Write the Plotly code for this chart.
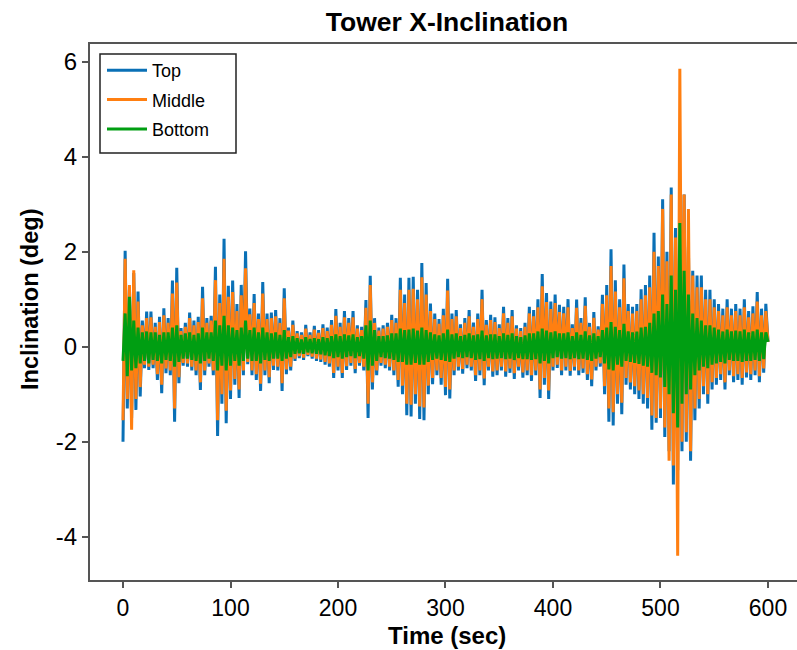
import plotly.graph_objects as go

# ---------------- data ----------------
time_s = [
    0, 2, 4, 6, 8, 10, 12, 14, 16, 18,
    20, 22, 24, 26, 28, 30, 32, 34, 36, 38,
    40, 42, 44, 46, 48, 50, 52, 54, 56, 58,
    60, 62, 64, 66, 68, 70, 72, 74, 76, 78,
    80, 82, 84, 86, 88, 90, 92, 94, 96, 98,
    100, 102, 104, 106, 108, 110, 112, 114, 116, 118,
    120, 122, 124, 126, 128, 130, 132, 134, 136, 138,
    140, 142, 144, 146, 148, 150, 152, 154, 156, 158,
    160, 162, 164, 166, 168, 170, 172, 174, 176, 178,
    180, 182, 184, 186, 188, 190, 192, 194, 196, 198,
    200, 202, 204, 206, 208, 210, 212, 214, 216, 218,
    220, 222, 224, 226, 228, 230, 232, 234, 236, 238,
    240, 242, 244, 246, 248, 250, 252, 254, 256, 258,
    260, 262, 264, 266, 268, 270, 272, 274, 276, 278,
    280, 282, 284, 286, 288, 290, 292, 294, 296, 298,
    300, 302, 304, 306, 308, 310, 312, 314, 316, 318,
    320, 322, 324, 326, 328, 330, 332, 334, 336, 338,
    340, 342, 344, 346, 348, 350, 352, 354, 356, 358,
    360, 362, 364, 366, 368, 370, 372, 374, 376, 378,
    380, 382, 384, 386, 388, 390, 392, 394, 396, 398,
    400, 402, 404, 406, 408, 410, 412, 414, 416, 418,
    420, 422, 424, 426, 428, 430, 432, 434, 436, 438,
    440, 442, 444, 446, 448, 450, 452, 454, 456, 458,
    460, 462, 464, 466, 468, 470, 472, 474, 476, 478,
    480, 482, 484, 486, 488, 490, 492, 494, 496, 498,
    500, 502, 504, 506, 508, 510, 512, 514, 516, 518,
    520, 522, 524, 526, 528, 530, 532, 534, 536, 538,
    540, 542, 544, 546, 548, 550, 552, 554, 556, 558,
    560, 562, 564, 566, 568, 570, 572, 574, 576, 578,
    580, 582, 584, 586, 588, 590, 592, 594, 596, 598,
    600,
]

top_deg = [
    -2.00, 2.02, -1.30, 1.20, -1.50, 1.55, -1.33, 1.16, -1.05, 0.55,
    -0.45, 0.74, -0.49, 0.74, -0.45, 0.50, -0.70, 0.63, -0.98, 0.81,
    -0.56, 0.60, -0.60, 1.39, -1.58, 1.66, -0.77, 0.39, -0.40, 0.50,
    -0.42, 0.72, -0.50, 0.55, -0.60, 0.63, -0.91, 1.26, -0.60, 0.60,
    -0.42, 0.65, -0.60, 1.68, -1.88, 1.10, -1.20, 2.27, -1.61, 1.28,
    -1.10, 1.39, -0.80, 0.90, -1.08, 1.30, -0.60, 2.01, -0.37, 0.80,
    -0.60, 1.11, -0.70, 0.70, -0.93, 1.36, -0.60, 0.70, -0.77, 0.72,
    -0.49, 0.77, -0.50, 0.60, -0.93, 1.23, -0.58, 0.40, -0.50, 0.55,
    -0.30, 0.33, -0.24, 0.30, -0.28, 0.46, -0.20, 0.30, -0.25, 0.44,
    -0.30, 0.35, -0.32, 0.47, -0.38, 0.40, -0.42, 0.56, -0.66, 0.79,
    -0.50, 0.50, -0.66, 0.75, -0.49, 0.60, -0.40, 0.75, -0.56, 0.45,
    -0.40, 0.42, -0.50, 0.98, -1.50, 1.49, -0.90, 0.60, -0.60, 0.40,
    -0.40, 0.45, -0.45, 0.50, -0.50, 0.67, -0.60, 0.60, -0.84, 1.45,
    -1.00, 1.10, -1.44, 1.45, -1.47, 1.47, -1.20, 1.20, -1.52, 1.76,
    -1.55, 1.34, -1.00, 0.91, -0.79, 0.70, -0.60, 0.58, -0.80, 0.80,
    -1.02, 1.43, -1.09, 0.70, -0.60, 0.77, -0.50, 0.47, -0.57, 0.60,
    -0.45, 0.77, -0.50, 0.51, -0.72, 0.70, -0.60, 1.20, -0.81, 0.56,
    -0.50, 0.67, -0.63, 0.62, -0.60, 0.47, -0.50, 0.84, -0.63, 0.60,
    -0.55, 0.77, -0.68, 0.45, -0.50, 0.39, -0.65, 0.50, -0.60, 0.84,
    -0.72, 0.77, -0.60, 1.00, -1.08, 1.53, -0.80, 1.13, -1.10, 0.95,
    -0.50, 1.10, -0.45, 0.88, -0.60, 0.84, -0.50, 1.00, -0.61, 0.47,
    -0.50, 0.99, -0.60, 0.60, -0.55, 1.04, -0.70, 0.50, -0.83, 0.73,
    -0.50, 0.43, -0.42, 1.09, -1.00, 1.30, -1.58, 2.05, -1.66, 1.40,
    -1.20, 1.00, -1.42, 1.73, -0.80, 0.90, -0.90, 0.84, -1.00, 0.90,
    -1.10, 1.21, -1.20, 1.30, -1.30, 1.50, -1.75, 2.40, -1.60, 1.90,
    -1.50, 3.10, -1.90, 2.00, -2.20, 3.35, -2.90, 2.50, -2.60, 3.00,
    -2.20, 3.20, -2.00, 2.10, -2.40, 1.60, -1.55, 1.50, -1.30, 1.50,
    -1.00, 1.20, -1.20, 1.20, -0.90, 1.00, -0.80, 0.90, -0.70, 0.80,
    -0.90, 1.00, -0.60, 0.80, -0.75, 0.90, -0.70, 0.80, -0.80, 1.00,
    -0.65, 0.75, -0.70, 0.85, -0.60, 1.15, -0.75, 0.80, -0.55, 0.90,
    0.10,
]

middle_deg = [
    -1.55, 1.85, -1.10, 1.30, -1.75, 1.61, -1.10, 0.95, -0.85, 0.45,
    -0.38, 0.60, -0.42, 0.62, -0.38, 0.42, -0.58, 0.52, -0.80, 0.66,
    -0.46, 0.50, -0.50, 1.12, -1.30, 1.35, -0.64, 0.33, -0.34, 0.42,
    -0.35, 0.60, -0.42, 0.45, -0.50, 0.52, -0.75, 1.02, -0.50, 0.50,
    -0.35, 0.55, -0.50, 1.40, -1.55, 0.92, -1.00, 1.85, -1.35, 1.05,
    -0.92, 1.15, -0.68, 0.75, -0.90, 1.08, -0.50, 1.65, -0.32, 0.68,
    -0.50, 0.92, -0.58, 0.58, -0.78, 1.12, -0.50, 0.58, -0.64, 0.60,
    -0.40, 0.64, -0.42, 0.50, -0.77, 1.02, -0.48, 0.34, -0.42, 0.46,
    -0.25, 0.28, -0.20, 0.25, -0.23, 0.38, -0.17, 0.25, -0.21, 0.36,
    -0.25, 0.29, -0.27, 0.39, -0.32, 0.33, -0.35, 0.46, -0.55, 0.65,
    -0.42, 0.42, -0.55, 0.62, -0.41, 0.50, -0.34, 0.62, -0.47, 0.38,
    -0.34, 0.35, -0.42, 0.82, -1.20, 1.30, -0.75, 0.50, -0.50, 0.34,
    -0.34, 0.38, -0.38, 0.42, -0.42, 0.56, -0.50, 0.50, -0.70, 1.20,
    -0.82, 0.92, -1.20, 1.20, -1.22, 1.22, -1.00, 1.00, -1.26, 1.46,
    -1.28, 1.10, -0.82, 0.75, -0.66, 0.58, -0.50, 0.48, -0.66, 0.66,
    -0.85, 1.18, -0.90, 0.58, -0.50, 0.64, -0.42, 0.39, -0.47, 0.50,
    -0.38, 0.64, -0.42, 0.42, -0.60, 0.58, -0.50, 1.00, -0.67, 0.46,
    -0.42, 0.56, -0.52, 0.52, -0.50, 0.39, -0.42, 0.70, -0.52, 0.50,
    -0.46, 0.64, -0.56, 0.38, -0.42, 0.33, -0.54, 0.42, -0.50, 0.70,
    -0.60, 0.64, -0.50, 0.83, -0.90, 1.27, -0.66, 0.94, -0.92, 0.79,
    -0.42, 0.92, -0.38, 0.73, -0.50, 0.70, -0.42, 0.83, -0.51, 0.39,
    -0.42, 0.82, -0.50, 0.50, -0.46, 0.86, -0.58, 0.42, -0.69, 0.61,
    -0.42, 0.36, -0.35, 0.90, -0.83, 1.08, -1.30, 1.70, -1.38, 1.16,
    -1.00, 0.83, -1.18, 1.44, -0.66, 0.75, -0.75, 0.70, -0.83, 0.75,
    -0.92, 1.00, -1.00, 1.08, -1.08, 1.25, -1.45, 2.00, -1.50, 1.70,
    -1.30, 2.90, -1.70, 1.80, -2.40, 3.20, -2.50, 2.30, -4.40, 5.85,
    -2.00, 3.20, -1.80, 2.90, -2.20, 1.50, -1.30, 1.25, -1.10, 1.25,
    -0.83, 1.00, -1.00, 1.00, -0.75, 0.83, -0.66, 0.75, -0.58, 0.66,
    -0.75, 0.83, -0.50, 0.66, -0.62, 0.75, -0.58, 0.66, -0.66, 0.83,
    -0.54, 0.62, -0.58, 0.70, -0.50, 0.95, -0.62, 0.66, -0.46, 0.75,
    0.10,
]

bottom_deg = [
    -0.30, 0.70, -0.62, 1.05, -0.50, 0.55, -0.45, 0.40, -0.35, 0.30,
    -0.30, 0.32, -0.35, 0.30, -0.28, 0.30, -0.30, 0.25, -0.35, 0.30,
    -0.28, 0.30, -0.30, 0.40, -0.42, 0.45, -0.32, 0.25, -0.25, 0.28,
    -0.25, 0.30, -0.28, 0.25, -0.30, 0.28, -0.35, 0.40, -0.30, 0.30,
    -0.25, 0.30, -0.30, 0.55, -0.50, 0.45, -0.40, 0.65, -0.50, 0.45,
    -0.40, 0.40, -0.30, 0.35, -0.40, 0.40, -0.30, 0.55, -0.25, 0.35,
    -0.30, 0.40, -0.30, 0.30, -0.35, 0.40, -0.28, 0.30, -0.30, 0.28,
    -0.25, 0.30, -0.25, 0.25, -0.30, 0.35, -0.25, 0.20, -0.22, 0.22,
    -0.15, 0.18, -0.14, 0.15, -0.15, 0.20, -0.12, 0.16, -0.14, 0.18,
    -0.15, 0.16, -0.16, 0.20, -0.18, 0.18, -0.20, 0.22, -0.24, 0.26,
    -0.22, 0.22, -0.25, 0.26, -0.22, 0.24, -0.20, 0.26, -0.24, 0.20,
    -0.20, 0.22, -0.25, 0.45, -0.50, 0.55, -0.40, 0.35, -0.30, 0.22,
    -0.22, 0.22, -0.24, 0.24, -0.25, 0.28, -0.28, 0.28, -0.32, 0.38,
    -0.32, 0.35, -0.38, 0.36, -0.38, 0.38, -0.34, 0.34, -0.38, 0.40,
    -0.38, 0.35, -0.32, 0.30, -0.28, 0.26, -0.25, 0.24, -0.28, 0.28,
    -0.30, 0.36, -0.32, 0.26, -0.25, 0.28, -0.22, 0.22, -0.24, 0.25,
    -0.22, 0.28, -0.24, 0.24, -0.28, 0.26, -0.26, 0.34, -0.30, 0.24,
    -0.24, 0.26, -0.26, 0.26, -0.25, 0.22, -0.24, 0.28, -0.26, 0.25,
    -0.25, 0.28, -0.28, 0.22, -0.24, 0.20, -0.26, 0.24, -0.26, 0.28,
    -0.28, 0.28, -0.26, 0.32, -0.35, 0.38, -0.30, 0.34, -0.35, 0.30,
    -0.24, 0.32, -0.22, 0.28, -0.25, 0.28, -0.24, 0.30, -0.26, 0.22,
    -0.24, 0.30, -0.26, 0.25, -0.25, 0.32, -0.28, 0.24, -0.30, 0.28,
    -0.25, 0.22, -0.22, 0.35, -0.35, 0.40, -0.48, 0.52, -0.50, 0.42,
    -0.38, 0.35, -0.42, 0.48, -0.30, 0.32, -0.32, 0.30, -0.34, 0.32,
    -0.36, 0.40, -0.40, 0.42, -0.42, 0.50, -0.55, 0.70, -0.60, 0.75,
    -0.65, 1.10, -0.85, 0.90, -1.00, 1.50, -1.40, 1.20, -1.70, 2.60,
    -1.20, 1.60, -1.00, 1.10, -0.90, 0.70, -0.60, 0.60, -0.50, 0.55,
    -0.42, 0.45, -0.45, 0.45, -0.38, 0.40, -0.35, 0.36, -0.32, 0.32,
    -0.35, 0.36, -0.28, 0.32, -0.30, 0.34, -0.30, 0.32, -0.32, 0.36,
    -0.30, 0.30, -0.30, 0.32, -0.28, 0.36, -0.30, 0.30, -0.26, 0.30,
    0.10,
]

series_names = ["Top", "Middle", "Bottom"]
x_tick_values = [0, 100, 200, 300, 400, 500, 600]
y_tick_values = [-4, -2, 0, 2, 4, 6]
y_tick_labels = ["-4", "-2", "0", "2", "4", "6"]

# ---------------- styling ----------------
colors = ["#0a70b6", "#ff7f11", "#009e12"]
FONT = "Liberation Sans, Arial, Helvetica, sans-serif"
AXIS_COLOR = "#555555"

fig = go.Figure()
for name, vals, col in zip(series_names, [top_deg, middle_deg, bottom_deg], colors):
    fig.add_trace(go.Scatter(
        x=time_s, y=vals, mode="lines", name=name, legendgroup=name,
        line=dict(color=col, width=3),
    ))

PLOT_L, PLOT_T, PLOT_B = 90, 44, 580
PLOT_H = PLOT_B - PLOT_T
PLOT_W = 797 - PLOT_L


def px_x(px):
    return (px - PLOT_L) / PLOT_W


def px_y(py):
    return 1 - (py - PLOT_T) / PLOT_H


fig.update_layout(
    width=797, height=650,
    margin=dict(l=PLOT_L, r=0, t=PLOT_T, b=650 - PLOT_B),
    paper_bgcolor="white", plot_bgcolor="white",
    font=dict(family=FONT, color="black"),
    title=dict(
        text="<b>Tower X-Inclination</b>",
        font=dict(family=FONT, size=26.5, color="black"),
        x=px_x(447), xref="paper", xanchor="center",
        y=1 - 22 / 650, yref="container", yanchor="middle",
    ),
    showlegend=True,
    legend=dict(
        x=px_x(102), y=px_y(52), xanchor="left", yanchor="top",
        bgcolor="rgba(0,0,0,0)", borderwidth=0,
        font=dict(family=FONT, size=18, color="black"),
        itemwidth=40, tracegroupgap=3,
    ),
    shapes=[
        # legend frame
        dict(type="rect", xref="paper", yref="paper", layer="above",
             x0=px_x(100), x1=px_x(236), y0=px_y(153), y1=px_y(54),
             line=dict(color="#222222", width=1.5), fillcolor="white"),
    ],
    annotations=[
        dict(
            text="<b>Time (sec)</b>", xref="paper", yref="paper",
            x=px_x(447), y=px_y(650), borderpad=0,
            xanchor="center", yanchor="bottom", showarrow=False,
            font=dict(family=FONT, size=24, color="black"),
        ),
        dict(
            text="<b>Inclination (deg)</b>", xref="paper", yref="paper",
            x=px_x(30), y=px_y(300),
            xanchor="center", yanchor="middle", textangle=-90, showarrow=False,
            font=dict(family=FONT, size=23.5, color="black"),
        ),
    ],
)

fig.update_xaxes(
    range=[-30.7, 627],
    tickmode="array", tickvals=x_tick_values,
    ticks="outside", ticklen=6, tickwidth=1.5, tickcolor=AXIS_COLOR,
    tickfont=dict(family=FONT, size=23, color="black"),
    showline=True, linecolor=AXIS_COLOR, linewidth=2, mirror=True,
    showgrid=False, zeroline=False,
)
fig.update_yaxes(
    range=[-4.91, 6.37],
    tickmode="array", tickvals=y_tick_values, ticktext=y_tick_labels,
    ticks="outside", ticklen=6, tickwidth=1.5, tickcolor=AXIS_COLOR,
    tickfont=dict(family=FONT, size=24, color="black"),
    showline=True, linecolor=AXIS_COLOR, linewidth=2, mirror=False,
    showgrid=False, zeroline=False,
)

# the page body has a default 8px margin; remove it so the figure sits at (0, 0)
fig.write_html(
    "out.html",
    config={"displayModeBar": False},
    post_script="document.body.style.margin='0px';document.body.style.overflow='hidden';",
)
